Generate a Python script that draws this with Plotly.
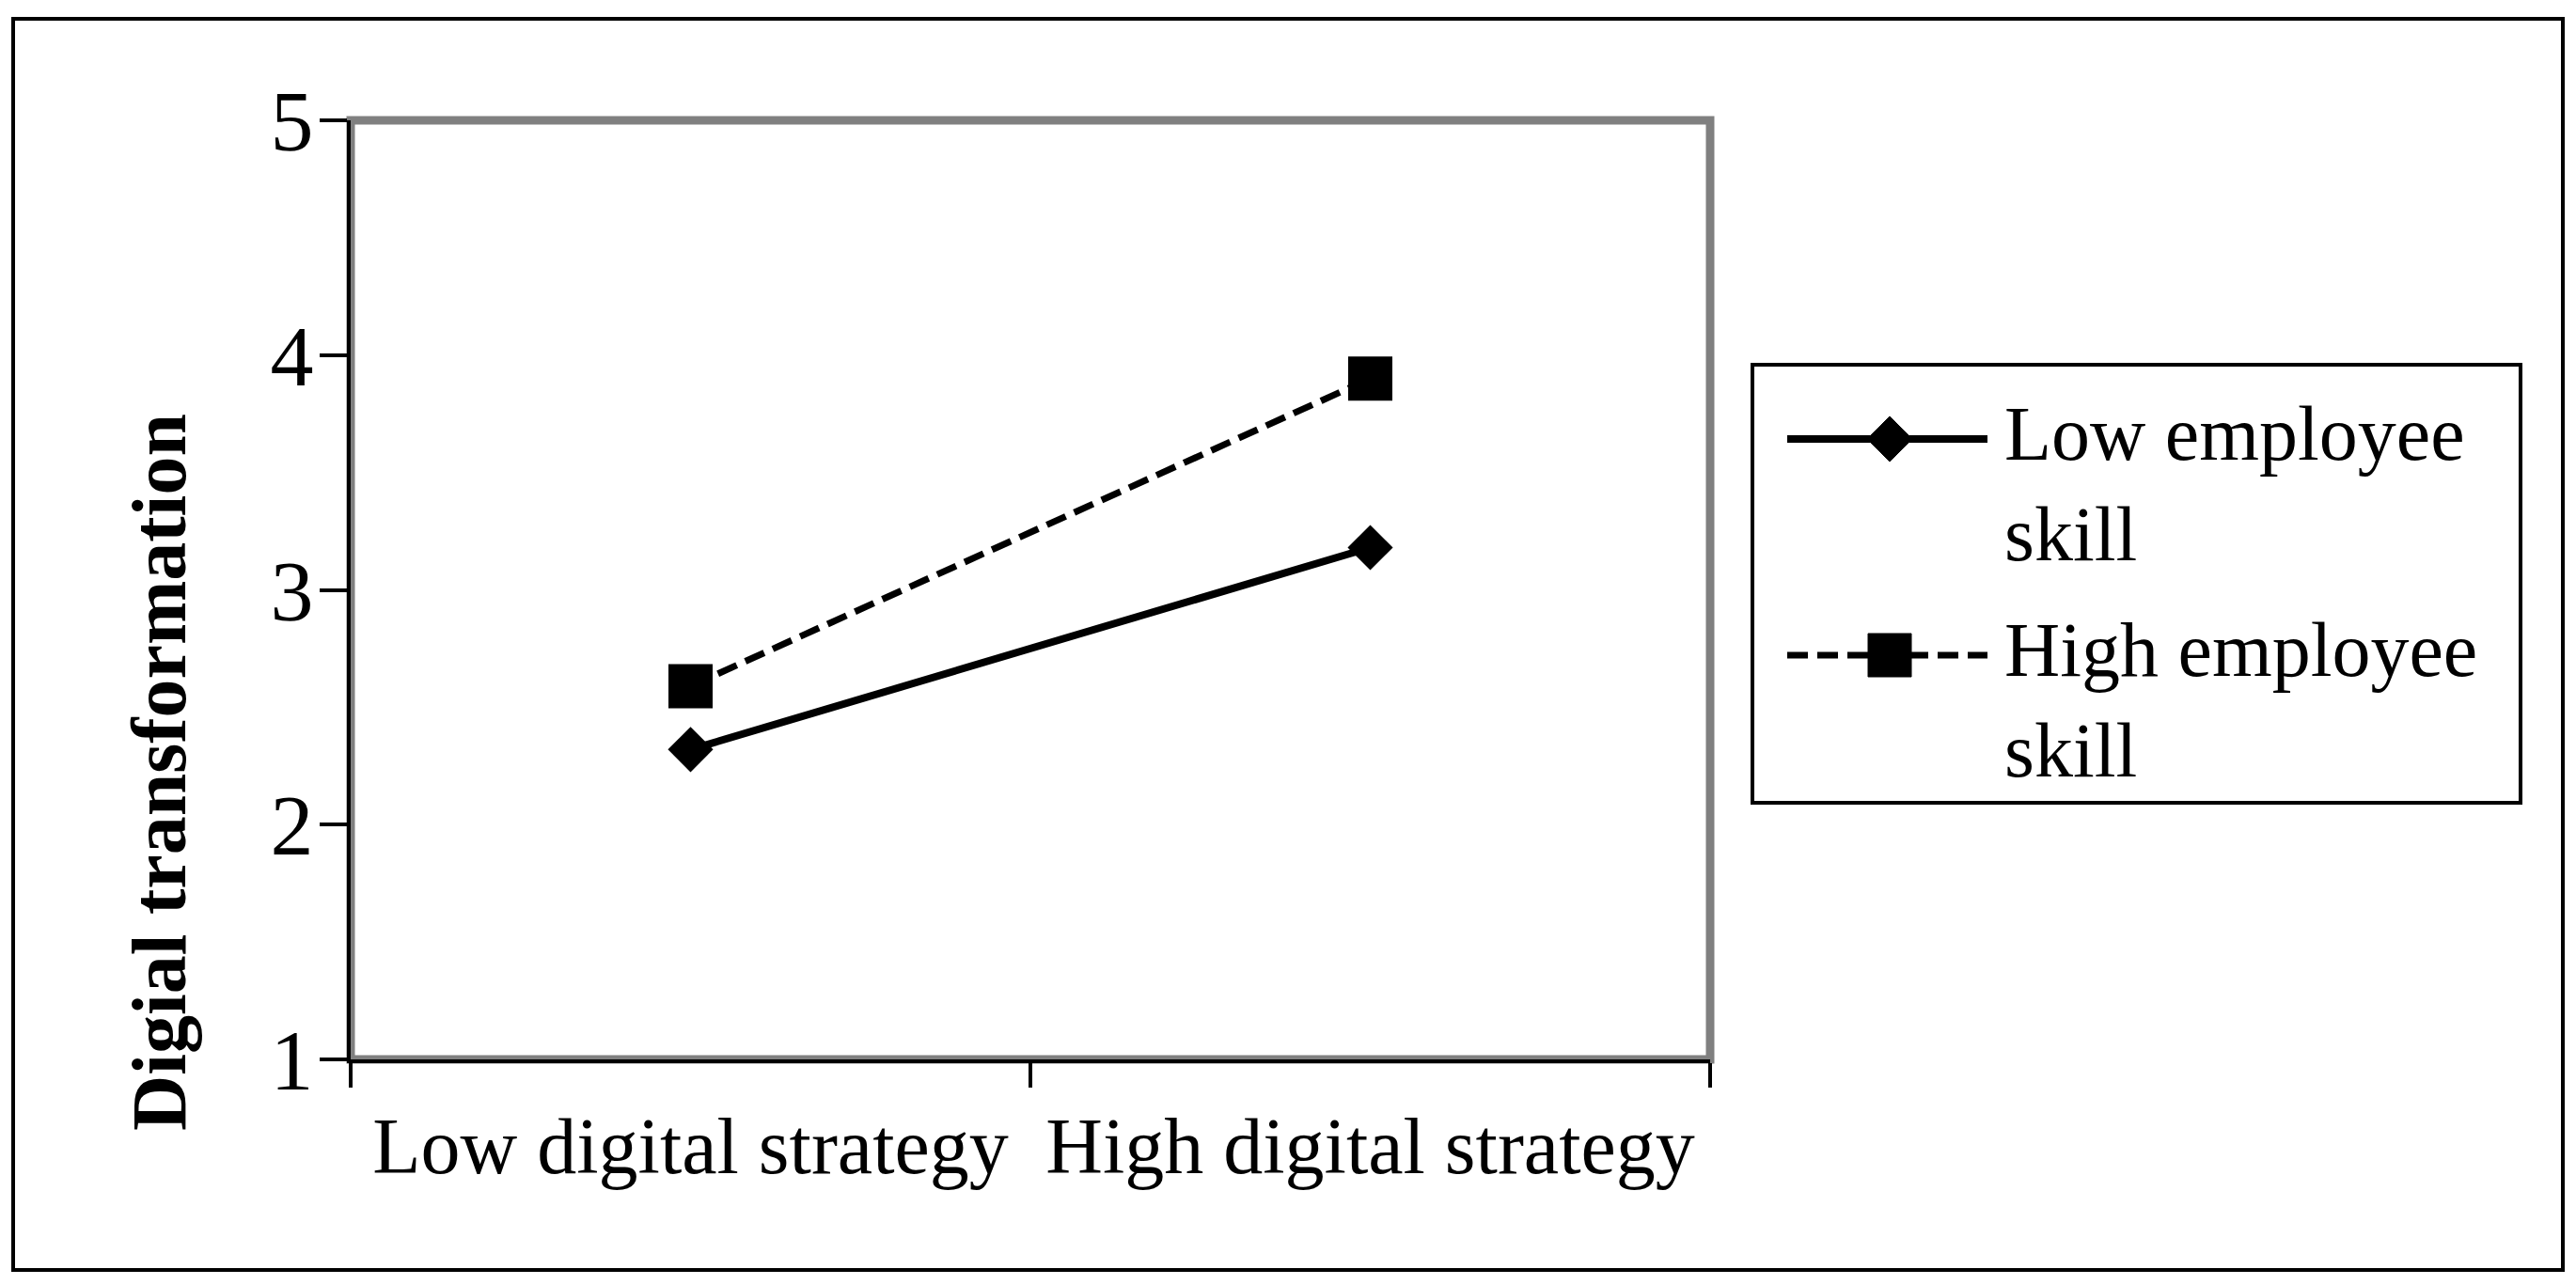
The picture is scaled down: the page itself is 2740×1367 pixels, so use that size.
import plotly.graph_objects as go

# data
categories = ['Low digital strategy', 'High digital strategy']
low_skill = [2.32, 3.18]
high_skill = [2.59, 3.90]
series_names = ['Low employee<br>skill', 'High employee<br>skill']
y_ticks = [1, 2, 3, 4, 5]

W, H = 2740, 1367
OFF = 8                              # page body margin
L, R, T, B = 373, 1819, 128, 1127    # plot area in page pixels
FONT = 'Liberation Serif'


def px(x):
    return (x - L) / (R - L)


def py(y):
    return (B - y) / (B - T)


fig = go.Figure()

fig.add_trace(go.Scatter(
    x=categories, y=low_skill, name=series_names[0], mode='lines+markers',
    line=dict(color='black', width=8),
    marker=dict(symbol='diamond', size=37, color='black'),
    showlegend=False, cliponaxis=False))
fig.add_trace(go.Scatter(
    x=categories, y=high_skill, name=series_names[1], mode='lines+markers',
    line=dict(color='black', width=7, dash='22px,10px'),
    marker=dict(symbol='square', size=47, color='black'),
    showlegend=False, cliponaxis=False))

shapes = []
# outer frame
shapes.append(dict(type='rect', xref='paper', yref='paper',
                   x0=px(14), x1=px(2726), y0=py(1351), y1=py(20),
                   line=dict(color='black', width=4), layer='below'))
# grey plot area border
shapes.append(dict(type='rect', xref='paper', yref='paper',
                   x0=0, x1=1, y0=0, y1=1,
                   line=dict(color='#808080', width=9), layer='below'))
# legend box
shapes.append(dict(type='rect', xref='paper', yref='paper',
                   x0=px(1864), x1=px(2681), y0=py(854), y1=py(388),
                   line=dict(color='black', width=4), fillcolor='white'))
# legend samples
shapes.append(dict(type='line', xref='paper', yref='paper',
                   x0=px(1901), x1=px(2114), y0=py(467), y1=py(467),
                   line=dict(color='black', width=8)))
shapes.append(dict(type='path', xref='paper', yref='paper',
                   path='M {} {} L {} {} L {} {} L {} {} Z'.format(
                       px(1986), py(467), px(2010), py(443),
                       px(2034), py(467), px(2010), py(491)),
                   fillcolor='black', line=dict(color='black', width=1)))
shapes.append(dict(type='line', xref='paper', yref='paper',
                   x0=px(1901), x1=px(2114), y0=py(697), y1=py(697),
                   line=dict(color='black', width=7, dash='22px,10px')))
shapes.append(dict(type='rect', xref='paper', yref='paper',
                   x0=px(1987), x1=px(2033), y0=py(720), y1=py(674),
                   fillcolor='black', line=dict(color='black', width=1)))

annotations = []
for txt, yy in zip(series_names, [466, 696]):
    annotations.append(dict(xref='paper', yref='paper', x=px(2130), y=py(yy),
                            text=txt, showarrow=False, xanchor='left', yanchor='top',
                            yshift=52, align='left',
                            font=dict(family=FONT, size=82, color='black')))
annotations.append(dict(xref='paper', yref='paper', x=px(169), y=py(822),
                        text='<b>Digial transformation</b>', textangle=-90,
                        showarrow=False, xanchor='center', yanchor='middle',
                        font=dict(family=FONT, size=82, color='black')))

fig.update_layout(
    width=W - 2 * OFF, height=H - 2 * OFF,
    margin=dict(l=L - OFF, r=W - OFF - R, t=T - OFF, b=H - OFF - B, pad=0),
    paper_bgcolor='white', plot_bgcolor='white',
    shapes=shapes, annotations=annotations,
    showlegend=False,
)
fig.update_xaxes(type='category', range=[-0.5, 1.5], tickson='boundaries',
                 ticks='outside', ticklen=26, tickwidth=4, tickcolor='black',
                 showline=True, linecolor='black', linewidth=4,
                 showgrid=False, zeroline=False, ticklabelstandoff=16,
                 tickfont=dict(family=FONT, size=84, color='black'))
fig.update_yaxes(range=[1, 5], tickvals=y_ticks,
                 ticks='outside', ticklen=29, tickwidth=4, tickcolor='black',
                 showline=True, linecolor='black', linewidth=4,
                 showgrid=False, zeroline=False, ticklabelstandoff=-12,
                 tickfont=dict(family=FONT, size=92, color='black'))

fig.write_html('out.html')
